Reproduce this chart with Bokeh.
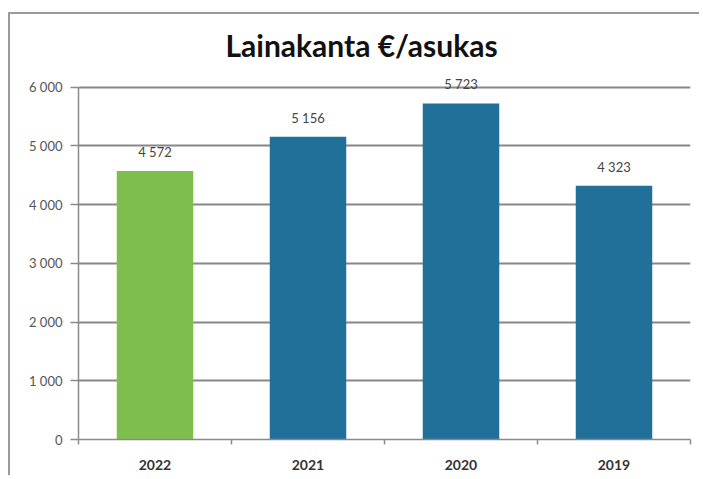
from bokeh.plotting import figure
from bokeh.models import Range1d, FixedTicker, ColumnDataSource, LabelSet
from bokeh.core.properties import value
from bokeh.embed import file_html
from bokeh.resources import INLINE

years = ["2022", "2021", "2020", "2019"]
values = [4572, 5156, 5723, 4323]
value_labels = ["4 572", "5 156", "5 723", "4 323"]
bar_colors = ["#7DBE4D", "#21709A", "#21709A", "#21709A"]
y_ticks = [0, 1000, 2000, 3000, 4000, 5000, 6000]
y_tick_labels = ["0", "1 000", "2 000", "3 000", "4 000", "5 000", "6 000"]
title_text = "Lainakanta €/asukas"

FONT = "Lato"

xs = [i + 0.5 for i in range(len(years))]
src = ColumnDataSource(dict(x=xs, top=values, lab=value_labels, color=bar_colors))

p = figure(width=691, height=463, x_range=Range1d(0, len(years)), y_range=Range1d(0, 6250),
           output_backend="svg", toolbar_location=None,
           min_border_left=68, min_border_right=11, min_border_top=58, min_border_bottom=38)

p.title.text = title_text
p.title.align = "left"
p.title.text_font = FONT
p.title.text_font_size = "30px"
p.title.text_font_style = "bold"
p.title.text_color = "#111111"
p.title.offset = 147
p.title.standoff = 19

p.outline_line_color = None
p.background_fill_color = "white"
p.border_fill_color = "white"
p.styles = {"margin-left": "8px", "margin-top": "12px",
            "border-left": "2px solid #9a9a9a", "border-top": "2px solid #9a9a9a"}

p.vbar(x="x", top="top", width=0.5, fill_color="color", line_color=None, source=src)
labels = LabelSet(x="x", y="top", text="lab", source=src, text_align="center",
                  text_baseline="middle", y_offset=19, text_font=value(FONT),
                  text_font_size=value("13px"), text_color=value("#444444"))
p.add_layout(labels)

# y axis
p.yaxis.ticker = FixedTicker(ticks=y_ticks, minor_ticks=[])
p.yaxis.bounds = (0, 6000)
p.yaxis.major_label_overrides = {t: l for t, l in zip(y_ticks, y_tick_labels)}
p.yaxis.major_label_text_font = FONT
p.yaxis.major_label_text_font_size = "13px"
p.yaxis.major_label_text_color = "#555555"
p.yaxis.major_tick_out = 8
p.yaxis.major_tick_in = 0
p.yaxis.major_label_standoff = 8
p.yaxis.axis_line_color = "#8a8a8a"
p.yaxis.axis_line_width = 1.5
p.yaxis.major_tick_line_color = "#8a8a8a"
p.yaxis.major_tick_line_width = 1.5

# x axis
p.xaxis.ticker = FixedTicker(ticks=xs, minor_ticks=list(range(len(years) + 1)))
p.xaxis.major_label_overrides = {x: y for x, y in zip(xs, years)}
p.xaxis.major_label_text_font = FONT
p.xaxis.major_label_text_font_size = "14px"
p.xaxis.major_label_text_font_style = "bold"
p.xaxis.major_label_text_color = "#333333"
p.xaxis.major_tick_out = 0
p.xaxis.major_tick_in = 0
p.xaxis.minor_tick_out = 5
p.xaxis.minor_tick_in = 0
p.xaxis.minor_tick_line_color = "#8a8a8a"
p.xaxis.minor_tick_line_width = 1.5
p.xaxis.major_label_standoff = 15
p.xaxis.axis_line_color = "#8a8a8a"
p.xaxis.axis_line_width = 1.5

p.xgrid.grid_line_color = None
p.ygrid.grid_line_color = "#888888"
p.ygrid.grid_line_width = 1.8

open("out.html", "w").write(file_html(p, INLINE))
